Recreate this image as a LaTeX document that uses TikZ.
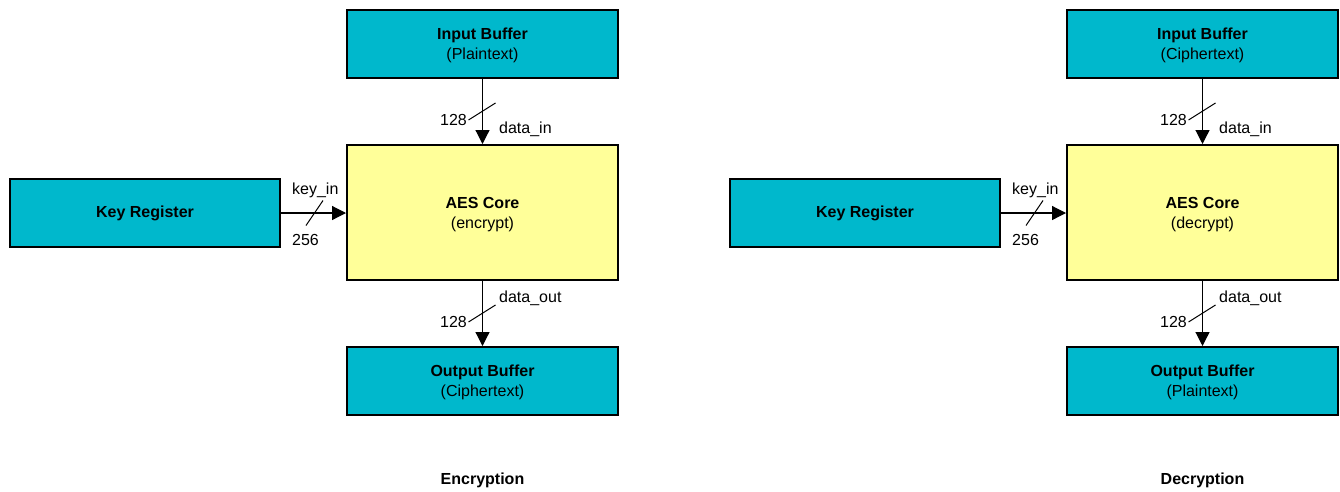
\documentclass[tikz,border=0pt]{standalone}
\usepackage{fontspec}
\setmainfont{Liberation Sans}
\usetikzlibrary{arrows.meta,calc}
\definecolor{tealbox}{RGB}{0,184,204}
\definecolor{corebox}{RGB}{255,255,153}
\begin{document}
\begin{tikzpicture}[x=1pt,y=-1pt,
  blk/.style={draw=black,line width=2pt,fill=tealbox,minimum width=271pt,minimum height=68pt,inner sep=0pt,align=center,font=\fontsize{16}{20}\selectfont},
  core/.style={draw=black,line width=2pt,fill=corebox,minimum width=271pt,minimum height=135pt,inner sep=0pt,align=center,font=\fontsize{16}{20}\selectfont},
  conn/.style={draw=black,line width=1.2pt,-{Triangle[length=14pt,width=14pt]}},
  slashln/.style={draw=black,line width=1pt},
  lbl/.style={inner sep=0pt,font=\fontsize{16}{20}\selectfont},
  captxt/.style={inner sep=0pt,font=\fontsize{16}{20}\selectfont\bfseries}]
\useasboundingbox (0,0) rectangle (1340,491);
\foreach \ox/\nm/\inp/\mode/\outp/\capt in {0/L/Plaintext/encrypt/Ciphertext/Encryption,720/R/Ciphertext/decrypt/Plaintext/Decryption}{
  \node[blk] (in\nm) at (482.5+\ox,44) {\rule{0pt}{14.6pt}\textbf{Input Buffer}\\(\inp)};
  \node[core] (aes\nm) at (482.5+\ox,212.5) {\rule{0pt}{14.6pt}\textbf{AES Core}\\(\mode)};
  \node[blk] (out\nm) at (482.5+\ox,381) {\rule{0pt}{14.6pt}\textbf{Output Buffer}\\(\outp)};
  \node[blk,minimum width=270pt] (key\nm) at (145+\ox,213) {\textbf{Key Register}};
  \node[captxt] (cap\nm) at (482.5+\ox,480.5) {\capt};
  \draw[conn] (in\nm.south) -- (aes\nm.north);
  \draw[conn] (aes\nm.south) -- (out\nm.north);
  \draw[conn] (key\nm.east) -- (key\nm.east -| aes\nm.west);
  \coordinate (si\nm) at (482.5+\ox,111.5);
  \coordinate (so\nm) at (482.5+\ox,313.5);
  \coordinate (sk\nm) at (314.5+\ox,213);
  \draw[slashln] ($(si\nm)+(-14,8.5)$) -- ($(si\nm)+(13,-8.5)$);
  \draw[slashln] ($(so\nm)+(-14,8.5)$) -- ($(so\nm)+(13,-8.5)$);
  \draw[slashln] ($(sk\nm)+(-8.5,12.5)$) -- ($(sk\nm)+(8.5,-12.5)$);
  \node[lbl,anchor=base east] (w1\nm) at (467+\ox,125) {128};
  \node[lbl,anchor=base west] (d1\nm) at (499+\ox,133) {data\_in};
  \node[lbl,anchor=base east] (w2\nm) at (467+\ox,327) {128};
  \node[lbl,anchor=base west] (d2\nm) at (499+\ox,302) {data\_out};
  \node[lbl,anchor=base west] (k1\nm) at (292+\ox,194) {key\_in};
  \node[lbl,anchor=base west] (k2\nm) at (292+\ox,245) {256};
}
\end{tikzpicture}
\end{document}
